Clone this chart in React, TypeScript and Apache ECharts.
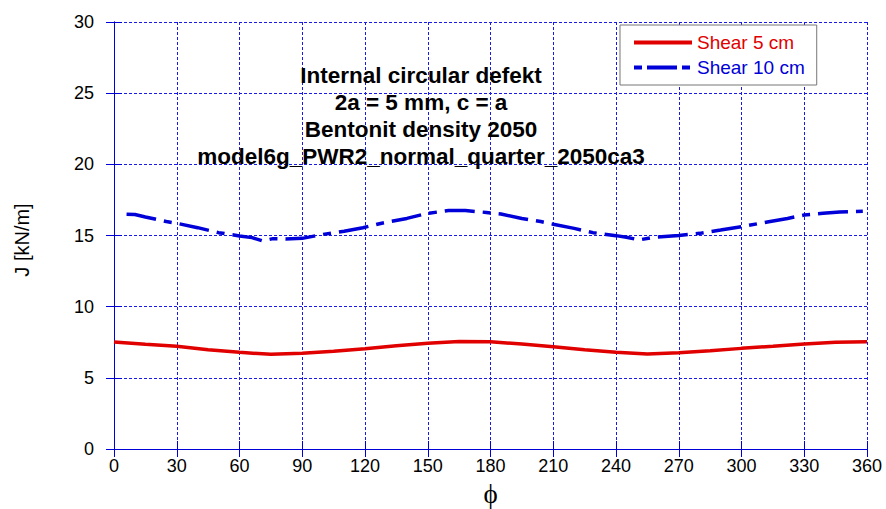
import React, { useEffect, useRef } from "react";
import * as echarts from "echarts";

const angles5 = [0, 15, 30, 45, 60, 75, 90, 105, 120, 135, 150, 165, 180, 195, 210, 225, 240, 255, 270, 285, 300, 315, 330, 345, 360];
const shear5 = [7.52, 7.36, 7.22, 6.97, 6.79, 6.65, 6.72, 6.86, 7.05, 7.25, 7.43, 7.55, 7.53, 7.38, 7.19, 6.98, 6.79, 6.67, 6.77, 6.9, 7.07, 7.22, 7.38, 7.5, 7.54];

const angles10 = [6, 10, 15, 25, 30, 40, 50, 60, 66, 71, 76, 82, 90, 100, 110, 119, 128, 140, 150, 160, 168, 178, 185, 195, 204, 210, 220, 229, 240, 245, 251, 257, 265, 270, 280, 290, 300, 313, 322, 330, 339, 347, 358];
const shear10 = [16.49, 16.47, 16.3, 15.98, 15.86, 15.55, 15.2, 14.97, 14.85, 14.62, 14.78, 14.76, 14.8, 15.08, 15.3, 15.55, 15.86, 16.2, 16.56, 16.75, 16.75, 16.62, 16.51, 16.2, 15.98, 15.79, 15.5, 15.2, 14.99, 14.88, 14.69, 14.85, 14.95, 15.0, 15.15, 15.38, 15.62, 15.97, 16.2, 16.44, 16.56, 16.65, 16.7];

const seriesNames = ["Shear 5 cm", "Shear 10 cm"];
const titleLines = [
  "Internal circular defekt",
  "2a = 5 mm, c = a",
  "Bentonit density 2050",
  "model6g_PWR2_normal_quarter_2050ca3",
];
const xAxisName = "ϕ";
const yAxisName = "J [kN/m]";

const RED = "#e00000";
const BLUE = "#0000d8";
const GRID = "#1a1ae6";
const FONT = "'Liberation Sans', Arial, sans-serif";

export default function App() {
  const ref = useRef<HTMLDivElement>(null);
  useEffect(() => {
    if (!ref.current) return;
    const chart = echarts.init(ref.current, undefined, { renderer: "svg" });
    const tickInside = { show: true, inside: true, length: 8, lineStyle: { color: BLUE, width: 1 } };
    chart.setOption({
      animation: false,
      backgroundColor: "#ffffff",
      textStyle: { fontFamily: FONT },
      grid: { left: 114, right: 19, top: 22, bottom: 60, show: false, outerBoundsMode: "none", containLabel: false },
      title: {
        text: titleLines.join("\n"),
        left: 416,
        top: 57,
        textAlign: "center",
        textStyle: { fontFamily: FONT, fontWeight: "bold", fontSize: 22.5, lineHeight: 27, color: "#000" },
      },
      graphic: [
        {
          type: "text",
          x: 22,
          y: 240,
          rotation: Math.PI / 2,
          style: {
            text: yAxisName,
            fill: "#000",
            font: `20px ${FONT}`,
            align: "center",
            verticalAlign: "middle",
          },
        },
      ],
      legend: {
        orient: "vertical",
        left: 620,
        top: 25,
        padding: [8, 12, 8, 12],
        itemWidth: 58,
        itemHeight: 14,
        itemGap: 6,
        backgroundColor: "#ffffff",
        borderColor: "#777777",
        borderWidth: 1,
        borderRadius: 0,
        itemStyle: { opacity: 0, color: "rgba(0,0,0,0)", borderWidth: 0 },
        data: [
          { name: seriesNames[0], textStyle: { color: RED }, lineStyle: { width: 4, color: RED } },
          { name: seriesNames[1], textStyle: { color: BLUE }, lineStyle: { width: 4, color: BLUE, type: [8, 5, 30, 5] } },
        ],
        textStyle: { fontSize: 19, fontFamily: FONT },
      },
      xAxis: [
        {
          type: "value",
          min: 0,
          max: 360,
          interval: 30,
          name: xAxisName,
          nameLocation: "middle",
          nameGap: 31,
          nameTextStyle: { fontSize: 27, color: "#000", fontFamily: "'Liberation Serif', 'DejaVu Serif', serif" },
          axisLine: { show: true, lineStyle: { color: BLUE, width: 1 } },
          axisTick: tickInside,
          axisLabel: { fontSize: 18, color: "#000", margin: 8, fontFamily: FONT },
          splitLine: { show: true, lineStyle: { color: GRID, width: 1, type: [3, 2] } },
        },
        {
          type: "value",
          position: "top",
          min: 0,
          max: 360,
          interval: 30,
          axisLine: { show: true, lineStyle: { color: BLUE, width: 1 } },
          axisTick: tickInside,
          axisLabel: { show: false },
          splitLine: { show: false },
        },
      ],
      yAxis: [
        {
          type: "value",
          min: 0,
          max: 30,
          interval: 5,
          axisLine: { show: true, lineStyle: { color: BLUE, width: 1 } },
          axisTick: tickInside,
          axisLabel: { fontSize: 18, color: "#000", margin: 20, fontFamily: FONT },
          splitLine: { show: true, lineStyle: { color: GRID, width: 1, type: [3, 2] } },
        },
        {
          type: "value",
          position: "right",
          min: 0,
          max: 30,
          interval: 5,
          axisLine: { show: true, lineStyle: { color: BLUE, width: 1 } },
          axisTick: tickInside,
          axisLabel: { show: false },
          splitLine: { show: false },
        },
      ],
      series: [
        {
          name: seriesNames[0],
          type: "line",
          showSymbol: false,
          symbol: "none",
          data: angles5.map((a, i) => [a, shear5[i]]),
          lineStyle: { color: RED, width: 3.5 },
          itemStyle: { color: RED },
          z: 5,
        },
        {
          name: seriesNames[1],
          type: "line",
          showSymbol: false,
          symbol: "none",
          data: angles10.map((a, i) => [a, shear10[i]]),
          lineStyle: { color: BLUE, width: 3.5, type: [30, 8, 8, 8] },
          itemStyle: { color: BLUE },
          z: 5,
        },
      ],
    });
    return () => chart.dispose();
  }, []);
  return <div ref={ref} style={{ width: 886, height: 509, position: "absolute", left: 0, top: 0 }} />;
}
